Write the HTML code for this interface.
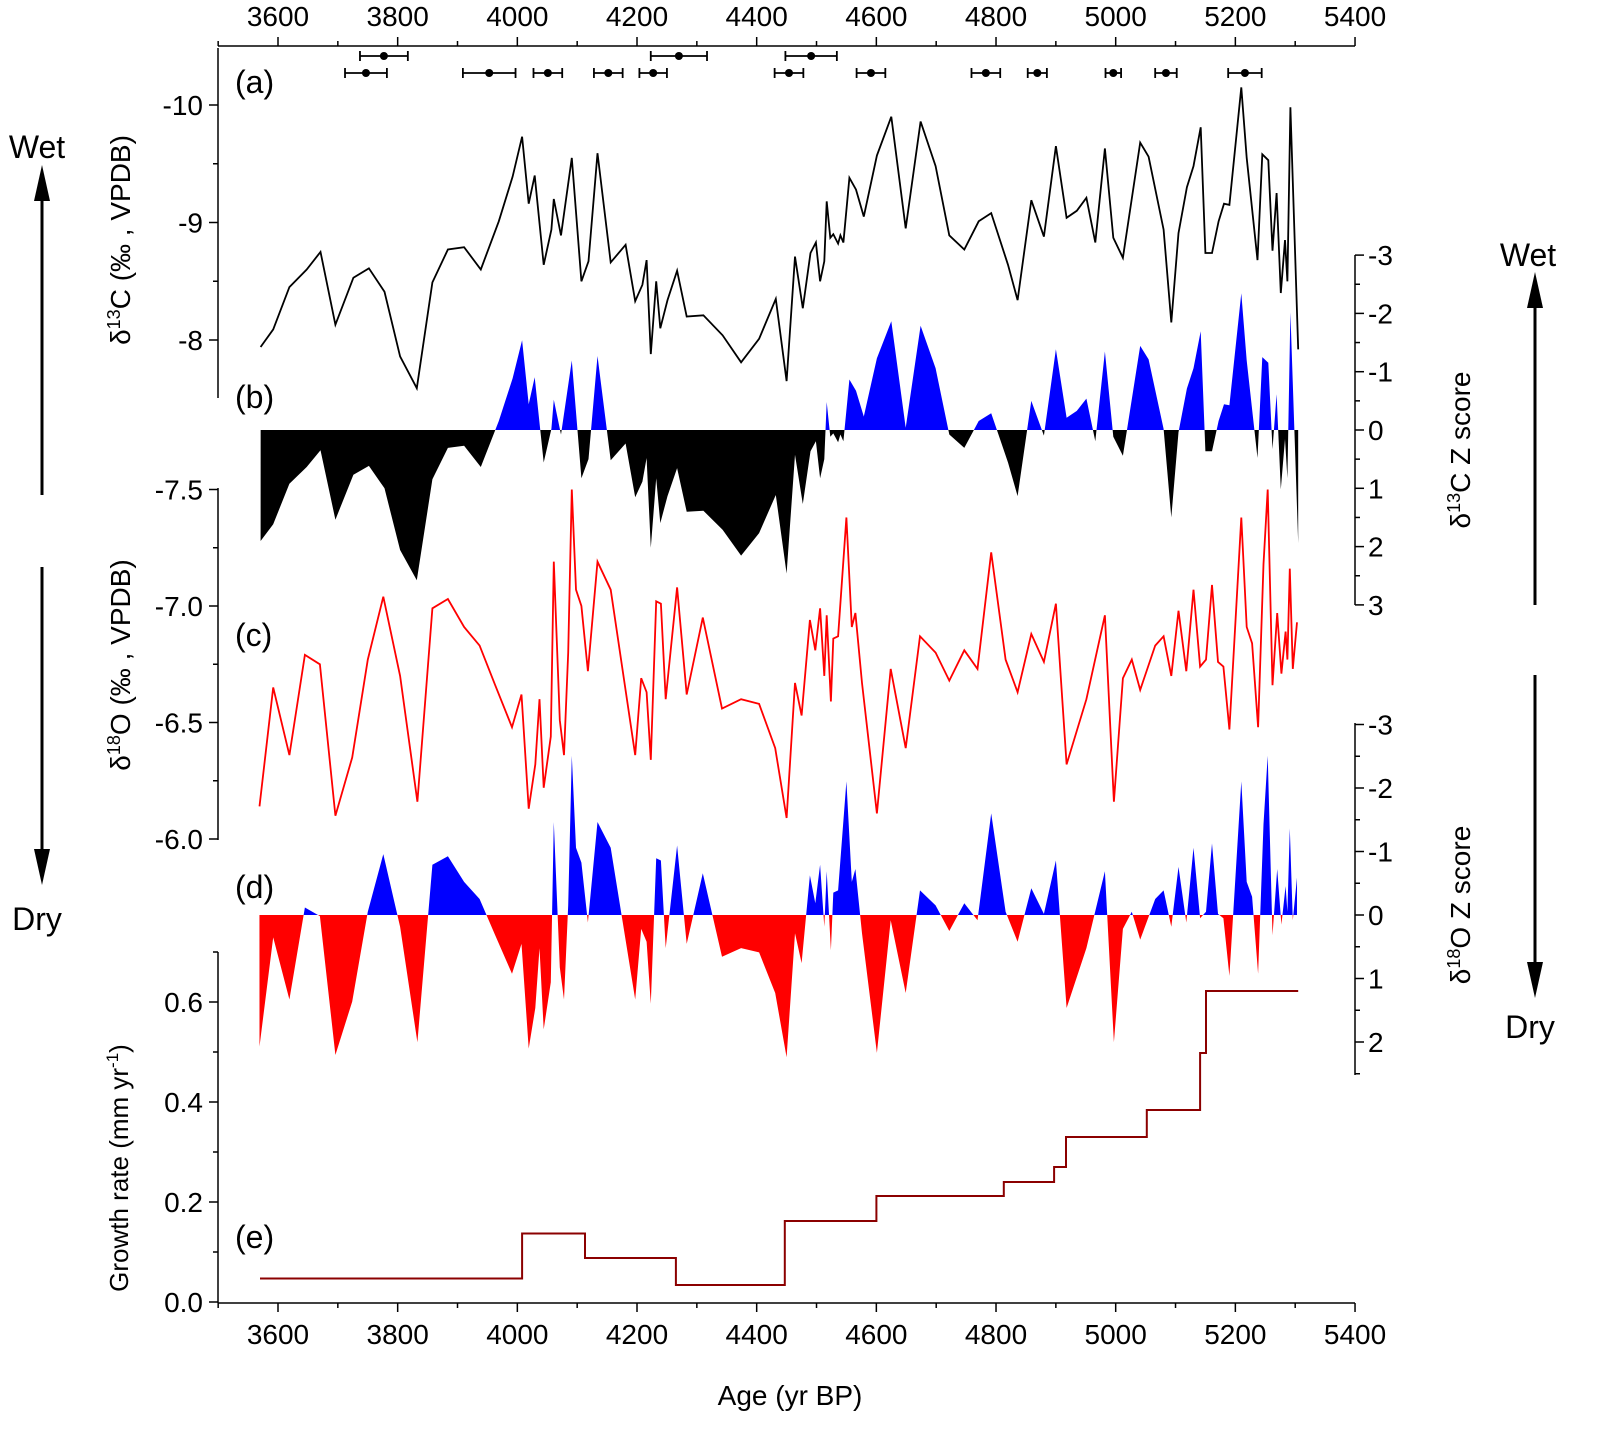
<!DOCTYPE html>
<html><head><meta charset="utf-8">
<style>
html,body{margin:0;padding:0;background:#fff;}
svg{display:block;font-family:"Liberation Sans",Arial,sans-serif;}
</style></head>
<body>
<svg id="chart" width="1608" height="1456" viewBox="0 0 1608 1456" xmlns="http://www.w3.org/2000/svg"></svg>
<script>
// ---- data ----
const c13Age=[3571,3592,3619,3648,3671,3696,3726,3752,3778,3804,3832,3858,3884,3911,3939,3969,3992,4008,4019,4029,4044,4057,4061,4073,4091,4107,4119,4134,4156,4181,4197,4209,4216,4223,4232,4239,4251,4267,4283,4311,4343,4374,4404,4432,4450,4464,4477,4490,4499,4506,4513,4517,4523,4528,4536,4540,4545,4555,4566,4579,4601,4625,4649,4674,4699,4722,4747,4771,4792,4820,4836,4859,4880,4900,4918,4935,4951,4966,4982,4996,5012,5041,5055,5080,5093,5105,5119,5130,5142,5150,5161,5172,5181,5190,5210,5219,5237,5245,5255,5262,5269,5276,5283,5287,5292,5305];
const c13Val=[-7.94,-8.09,-8.45,-8.60,-8.75,-8.13,-8.53,-8.61,-8.41,-7.86,-7.59,-8.49,-8.77,-8.79,-8.60,-9.01,-9.39,-9.73,-9.16,-9.40,-8.64,-8.94,-9.20,-8.89,-9.55,-8.50,-8.67,-9.59,-8.66,-8.81,-8.33,-8.47,-8.68,-7.88,-8.50,-8.10,-8.34,-8.59,-8.20,-8.21,-8.04,-7.81,-8.01,-8.35,-7.65,-8.71,-8.27,-8.74,-8.83,-8.50,-8.67,-9.18,-8.87,-8.90,-8.82,-8.89,-8.83,-9.38,-9.28,-9.05,-9.57,-9.90,-8.95,-9.86,-9.48,-8.89,-8.77,-9.01,-9.08,-8.64,-8.34,-9.19,-8.88,-9.65,-9.04,-9.10,-9.21,-8.83,-9.63,-8.87,-8.70,-9.68,-9.56,-8.94,-8.15,-8.91,-9.30,-9.48,-9.81,-8.74,-8.74,-9.01,-9.16,-9.15,-10.15,-9.55,-8.68,-9.58,-9.53,-8.76,-9.25,-8.40,-8.85,-8.50,-9.98,-7.92];
const o18Age=[3569,3592,3619,3645,3670,3696,3724,3750,3776,3804,3833,3858,3884,3911,3937,3963,3991,4007,4019,4030,4037,4044,4056,4061,4071,4078,4085,4091,4098,4107,4118,4134,4156,4197,4207,4216,4223,4232,4240,4248,4267,4283,4310,4342,4374,4404,4431,4450,4464,4475,4489,4498,4506,4513,4517,4524,4528,4536,4550,4559,4565,4576,4601,4624,4649,4673,4699,4722,4747,4769,4792,4816,4836,4859,4880,4900,4918,4951,4982,4997,5012,5027,5041,5066,5080,5093,5105,5118,5130,5141,5151,5161,5171,5180,5190,5210,5219,5228,5238,5247,5254,5262,5270,5277,5284,5287,5291,5296,5303];
const o18Val=[-6.14,-6.65,-6.36,-6.79,-6.75,-6.10,-6.35,-6.77,-7.04,-6.70,-6.16,-6.99,-7.03,-6.91,-6.83,-6.66,-6.48,-6.62,-6.13,-6.32,-6.60,-6.22,-6.44,-7.19,-6.51,-6.36,-6.80,-7.50,-7.07,-7.00,-6.72,-7.19,-7.07,-6.36,-6.69,-6.63,-6.34,-7.02,-7.01,-6.60,-7.08,-6.62,-6.95,-6.56,-6.60,-6.58,-6.39,-6.09,-6.67,-6.53,-6.94,-6.81,-6.99,-6.70,-6.96,-6.59,-6.86,-6.87,-7.38,-6.91,-6.97,-6.67,-6.11,-6.73,-6.39,-6.87,-6.80,-6.68,-6.81,-6.73,-7.23,-6.77,-6.63,-6.88,-6.76,-7.01,-6.32,-6.60,-6.96,-6.16,-6.69,-6.77,-6.64,-6.83,-6.87,-6.70,-6.98,-6.72,-7.07,-6.74,-6.77,-7.09,-6.76,-6.74,-6.47,-7.38,-6.91,-6.84,-6.48,-7.18,-7.50,-6.66,-6.97,-6.71,-6.89,-6.77,-7.16,-6.73,-6.93];
const c13Mean=-8.93, c13Sd=0.52;
const o18Mean=-6.755, o18Sd=0.297;
const grEdges=[3570,4008,4113,4265,4447,4600,4813,4897,4917,5052,5141,5151,5305];
const grRates=[0.047,0.137,0.088,0.034,0.162,0.212,0.240,0.270,0.330,0.384,0.498,0.622];
const dateAge=[3777,4270,4491,3747,3953,4051,4152,4227,4454,4591,4783,4869,4996,5084,5216];
const dateErr=[40,47,43,35,44,24,24,23,24,24,24,16,13,18,28];
const dateRow=[0,0,0,1,1,1,1,1,1,1,1,1,1,1,1];
const xTicks=[3600,3800,4000,4200,4400,4600,4800,5000,5200,5400];
const c13Ticks=[-10,-9,-8];
const o18Ticks=[-7.5,-7.0,-6.5,-6.0];
const grTicks=[0.0,0.2,0.4,0.6];
const z13Ticks=[-3,-2,-1,0,1,2,3];
const z18Ticks=[-3,-2,-1,0,1,2];

// ---- scales ----
const X=a=>278+(a-3600)*(119.67/200);
const Y13=v=>105+(v+10)*117.5;
const YZ13=z=>430+z*58.3;
const Y18=v=>606+(v+7)*233;
const YZ18=z=>915+z*63.5;
const YG=r=>1302-r*500;

const NS="http://www.w3.org/2000/svg";
const svg=document.getElementById('chart');
function mk(tag,attrs,parent){const e=document.createElementNS(NS,tag);for(const k in attrs)e.setAttribute(k,attrs[k]);(parent||svg).appendChild(e);return e;}
function txt(s,x,y,size,anchor,parent,extra){const t=mk('text',Object.assign({x:x,y:y,'font-size':size,'text-anchor':anchor||'middle',fill:'#000'},extra||{}),parent);t.textContent=s;return t;}

// clip paths for fills
const defs=mk('defs',{});
function clip(id,x,y,w,h){const c=mk('clipPath',{id:id},defs);mk('rect',{x:x,y:y,width:w,height:h},c);}
clip('c13up',0,0,1608,430);clip('c13dn',0,430,1608,1000);
clip('c18up',0,0,1608,915);clip('c18dn',0,915,1608,1000);

// ---- z-score fills ----
function zFill(ages,vals,mean,sd,yz,upId,dnId,upCol,dnCol,name){
  let d='M'+X(ages[0])+','+yz(0);
  for(let i=0;i<ages.length;i++){d+=' L'+X(ages[i]).toFixed(1)+','+yz((vals[i]-mean)/sd).toFixed(1);}
  d+=' L'+X(ages[ages.length-1])+','+yz(0)+' Z';
  const up=mk('path',{d:d,fill:upCol,'clip-path':'url(#'+upId+')'});
  
  
  const dn=mk('path',{d:d,fill:dnCol,'clip-path':'url(#'+dnId+')'});
  
  
}
zFill(c13Age,c13Val,c13Mean,c13Sd,YZ13,'c13up','c13dn','#0000ff','#000000','d13c-zscore');
zFill(o18Age,o18Val,o18Mean,o18Sd,YZ18,'c18up','c18dn','#0000ff','#ff0000','d18o-zscore');

// ---- lines ----
function line(ages,vals,ys,col,name){
  const pts=ages.map((a,i)=>X(a).toFixed(1)+','+ys(vals[i]).toFixed(1)).join(' ');
  const p=mk('polyline',{points:pts,fill:'none',stroke:col,'stroke-width':1.8,'stroke-linejoin':'miter'});
  
  
}
line(c13Age,c13Val,Y13,'#000','d13c-line');
line(o18Age,o18Val,Y18,'#ff0000','d18o-line');

// growth rate step
(function(){
  let d='M'+X(grEdges[0]).toFixed(1)+','+YG(grRates[0]).toFixed(1);
  for(let i=0;i<grRates.length;i++){
    d+=' L'+X(grEdges[i]).toFixed(1)+','+YG(grRates[i]).toFixed(1)+' L'+X(grEdges[i+1]).toFixed(1)+','+YG(grRates[i]).toFixed(1);
  }
  const p=mk('path',{d:d,fill:'none',stroke:'#8b0000','stroke-width':2});
  
  
})();

// dating error bars
for(let i=0;i<dateAge.length;i++){
  const y=dateRow[i]===0?56:73;
  const g=mk('g',{stroke:'#000','stroke-width':1.8});
  
  
  const x1=X(dateAge[i]-dateErr[i]),x2=X(dateAge[i]+dateErr[i]);
  mk('line',{x1:x1,y1:y,x2:x2,y2:y},g);
  mk('line',{x1:x1,y1:y-5,x2:x1,y2:y+5},g);
  mk('line',{x1:x2,y1:y-5,x2:x2,y2:y+5},g);
  mk('circle',{cx:X(dateAge[i]),cy:y,r:4,fill:'#000',stroke:'none'},g);
}

// ---- axes ----
const ax=mk('g',{stroke:'#000','stroke-width':1.5,fill:'none'});


// bottom & top
mk('line',{x1:218,y1:1303,x2:1355,y2:1303},ax);
mk('line',{x1:218,y1:46,x2:1355,y2:46},ax);
for(let a=3500;a<=5400;a+=100){
  const maj=xTicks.indexOf(a)>=0; const L=maj?9:5;
  mk('line',{x1:X(a),y1:1303,x2:X(a),y2:1303+L},ax);
  mk('line',{x1:X(a),y1:46,x2:X(a),y2:46-L},ax);
}
xTicks.forEach(a=>{
  const t1=txt(String(a),X(a),1344,28);
  
  
  const t2=txt(String(a),X(a),26,28);
  
  
});
const xt=txt('Age (yr BP)',790,1405,28);



// left d13C axis
mk('line',{x1:218,y1:48,x2:218,y2:398},ax);
for(let v=-10.5;v<=-7.5;v+=0.5){const y=Y13(v);if(y<48||y>398)continue;const maj=Number.isInteger(v);mk('line',{x1:218,y1:y,x2:218-(maj?9:5),y2:y},ax);}
c13Ticks.forEach(v=>{const t=txt(String(v),203,Y13(v)+10,28,'end');});
// left d18O axis
mk('line',{x1:218,y1:488,x2:218,y2:840},ax);
for(let v=-7.5;v<=-6.0001+0.3;v+=0.25){const y=Y18(v);if(y>841)continue;const maj=Math.abs(v*2-Math.round(v*2))<1e-6;mk('line',{x1:218,y1:y,x2:218-(maj?9:5),y2:y},ax);}
o18Ticks.forEach(v=>{const t=txt(v.toFixed(1),203,Y18(v)+10,28,'end');});
// growth axis
mk('line',{x1:218,y1:952,x2:218,y2:1303},ax);
for(let i=0;i<=7;i++){const r=i*0.1;const y=YG(r);if(y<952)continue;const maj=i%2===0;mk('line',{x1:218,y1:y,x2:218-(maj?9:5),y2:y},ax);}
grTicks.forEach(v=>{const t=txt(v.toFixed(1),203,YG(v)+10,28,'end');});
// right z13 axis
mk('line',{x1:1355,y1:255,x2:1355,y2:605},ax);
for(let z=-3;z<=3;z+=0.5){const maj=Number.isInteger(z);mk('line',{x1:1355,y1:YZ13(z),x2:1355+(maj?9:5),y2:YZ13(z)},ax);}
z13Ticks.forEach(z=>{const t=txt(String(z),1368,YZ13(z)+10,28,'start');});
// right z18 axis
mk('line',{x1:1355,y1:723,x2:1355,y2:1075},ax);
for(let z=-3;z<=2.5;z+=0.5){const maj=Number.isInteger(z);mk('line',{x1:1355,y1:YZ18(z),x2:1355+(maj?9:5),y2:YZ18(z)},ax);}
z18Ticks.forEach(z=>{const t=txt(String(z),1368,YZ18(z)+10,28,'start');});

// panel labels
[['(a)',82],['(b)',397],['(c)',635],['(d)',887],['(e)',1237]].forEach(p=>{
  const t=txt(p[0],235,p[1]+11,32,'start');
  
  
});

// arrows
function arrow(x,y1,y2,name){
  const g=mk('g',{});
  
  
  const dir=y2<y1?-1:1;
  mk('line',{x1:x,y1:y1,x2:x,y2:y2-dir*30,stroke:'#000','stroke-width':3},g);
  mk('polygon',{points:x+','+y2+' '+(x-8)+','+(y2-dir*36)+' '+(x+8)+','+(y2-dir*36),fill:'#000'},g);
}
arrow(42,495,165,'left-wet-arrow');
arrow(42,567,885,'left-dry-arrow');
arrow(1535,605,272,'right-wet-arrow');
arrow(1535,675,998,'right-dry-arrow');
[['Wet',37,158],['Dry',37,930],['Wet',1528,266],['Dry',1530,1038]].forEach(w=>{
  const t=txt(w[0],w[1],w[2],32);
  
  
});
</script>
<svg width="0" height="0" style="position:absolute"></svg>
<div style="position:absolute;left:0;top:0;width:1608px;height:1456px;pointer-events:none">
<svg width="1608" height="1456" style="position:absolute;left:0;top:0;font-family:'Liberation Sans',Arial,sans-serif">
<text transform="translate(130,240) rotate(-90)" font-size="28" text-anchor="middle">δ<tspan font-size="18" dy="-10">13</tspan><tspan dy="10">C (‰ , VPDB)</tspan></text>
<text transform="translate(130,665) rotate(-90)" font-size="28" text-anchor="middle">δ<tspan font-size="18" dy="-10">18</tspan><tspan dy="10">O (‰ , VPDB)</tspan></text>
<text transform="translate(128,1168) rotate(-90)" font-size="26" text-anchor="middle">Growth rate (mm yr<tspan font-size="17" dy="-10">-1</tspan><tspan dy="10">)</tspan></text>
<text transform="translate(1470,450) rotate(-90)" font-size="28" text-anchor="middle">δ<tspan font-size="18" dy="-10">13</tspan><tspan dy="10">C Z score</tspan></text>
<text transform="translate(1470,905) rotate(-90)" font-size="28" text-anchor="middle">δ<tspan font-size="18" dy="-10">18</tspan><tspan dy="10">O Z score</tspan></text>
</svg>
</div>
</body></html>
